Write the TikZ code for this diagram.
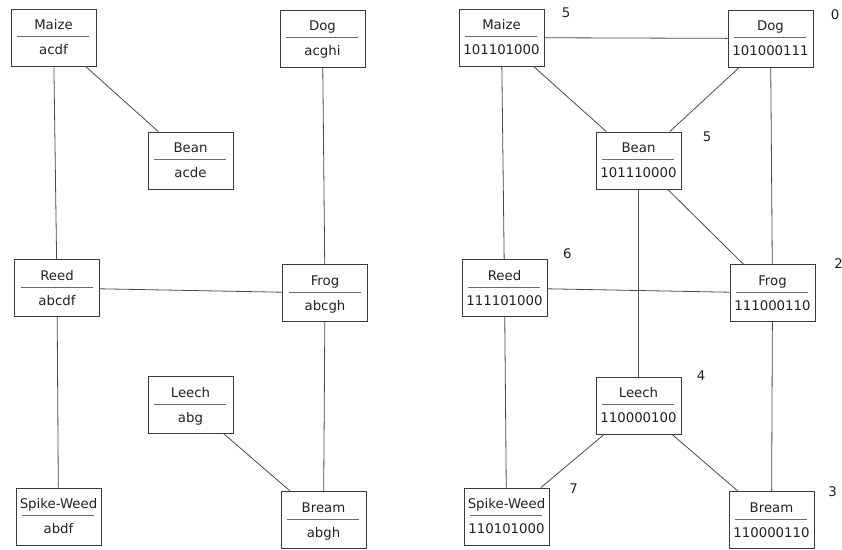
\documentclass[tikz,border=0pt]{standalone}
\usepackage{fontspec}
\setmainfont{DejaVu Sans}
\definecolor{boxline}{HTML}{3A3A3A}
\definecolor{divline}{HTML}{6A6A6A}
\definecolor{edgeline}{HTML}{4A4A4A}
\definecolor{txt}{HTML}{222222}
\tikzset{
  cbox/.style={draw=boxline, line width=0.9pt, rectangle, minimum width=85pt, minimum height=57pt, inner sep=0pt, fill=white},
  ctext/.style={text=txt, font=\fontsize{13.3}{15}\selectfont, inner sep=0pt, anchor=base},
  divider/.style={draw=divline, line width=0.9pt},
  edge/.style={draw=edgeline, line width=0.8pt},
  num/.style={text=txt, font=\fontsize{13.3}{15}\selectfont, inner sep=0pt}
}
\newcommand\cbox[5]{%
  \node[cbox] (#1) at (#2,#3) {};
  \node[ctext] (#1t) at ([yshift=7.7pt]#1.center) {#4};
  \draw[divider] ([xshift=6.5pt,yshift=0.9pt]#1.west) -- ([xshift=-7pt,yshift=0.9pt]#1.east);
  \node[ctext] (#1v) at ([yshift=-17.3pt]#1.center) {#5};
}
\begin{document}
\begin{tikzpicture}[x=1pt,y=-1pt]
\useasboundingbox[fill=white] (0,0) rectangle (842,549);
% left graph
\cbox{LMaize}{53.5}{37.6}{Maize}{acdf}
\cbox{LDog}{322.5}{38.5}{Dog}{acghi}
\cbox{LBean}{190.5}{160.5}{Bean}{acde}
\cbox{LReed}{57}{288}{Reed}{abcdf}
\cbox{LFrog}{325}{293}{Frog}{abcgh}
\cbox{LLeech}{190.5}{405}{Leech}{abg}
\cbox{LSpike}{58.5}{516.5}{Spike-Weed}{abdf}
\cbox{LBream}{323.5}{520}{Bream}{abgh}
% right graph
\cbox{RMaize}{501.5}{37.6}{Maize}{101101000}
\cbox{RDog}{770.5}{38.5}{Dog}{101000111}
\cbox{RBean}{638.5}{160.5}{Bean}{101110000}
\cbox{RReed}{504.5}{288}{Reed}{111101000}
\cbox{RFrog}{772.5}{293}{Frog}{111000110}
\cbox{RLeech}{638.5}{405.5}{Leech}{110000100}
\cbox{RSpike}{506.5}{516.5}{Spike-Weed}{110101000}
\cbox{RBream}{771.5}{520}{Bream}{110000110}
% left edges
\draw[edge] (LMaize) -- (LReed);
\draw[edge] (LMaize) -- (LBean);
\draw[edge] (LDog) -- (LFrog);
\draw[edge] (LReed) -- (LFrog);
\draw[edge] (LReed) -- (LSpike);
\draw[edge] (LFrog) -- (LBream);
\draw[edge] (LLeech) -- (LBream);
% right edges
\draw[edge] (RMaize) -- (RDog);
\draw[edge] (RMaize) -- (RReed);
\draw[edge] (RMaize) -- (RBean);
\draw[edge] (RDog) -- (RBean);
\draw[edge] (RDog) -- (RFrog);
\draw[edge] (RBean) -- (RFrog);
\draw[edge] (RBean) -- (RLeech);
\draw[edge] (RReed) -- (RFrog);
\draw[edge] (RReed) -- (RSpike);
\draw[edge] (RFrog) -- (RBream);
\draw[edge] (RLeech) -- (RSpike);
\draw[edge] (RLeech) -- (RBream);
% numbers
\node[num] (nMaize) at (566,12.3) {5};
\node[num] (nDog) at (835,15) {0};
\node[num] (nBean) at (707,137) {5};
\node[num] (nReed) at (567.3,254) {6};
\node[num] (nFrog) at (838.5,263.3) {2};
\node[num] (nLeech) at (701,376) {4};
\node[num] (nSpike) at (573.7,488.7) {7};
\node[num] (nBream) at (832.5,492) {3};
\end{tikzpicture}
\end{document}
